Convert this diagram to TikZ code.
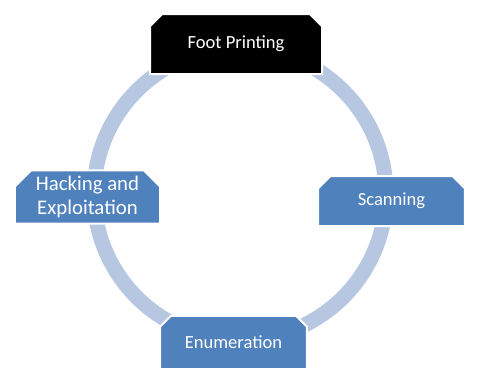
\documentclass[tikz,border=0pt]{standalone}
\usepackage{fontspec}
\setmainfont{Carlito}
\usetikzlibrary{shapes.misc}
\definecolor{stepblue}{HTML}{4F81BD}
\definecolor{ringblue}{HTML}{B7C7E1}
\tikzset{
  px/.style={x=0.75pt,y=-0.75pt},
  ph/.style={chamfered rectangle,chamfered rectangle corners={north west,north east},
    chamfered rectangle xsep=9pt,fill=stepblue,draw=white,line width=1.5pt,
    text=white,align=center,inner sep=0pt,
    font=\fontsize{13.9}{18.75}\selectfont},
  rg/.style={circle,draw=ringblue,line width=11.25pt,minimum size=219pt,inner sep=0pt},
}
\begin{document}
\begin{tikzpicture}[px]
\useasboundingbox (0,0) rectangle (485,380);
\node[rg] (cyc) at (240,194){};
\node[ph,fill=black,minimum width=129pt,minimum height=45pt] (foot) at (236,44){Foot Printing};
\node[ph,minimum width=110pt,minimum height=37.5pt] (scan) at (391.5,201){Scanning};
\node[ph,minimum width=110pt,minimum height=40pt] (enum) at (233.5,342.5){Enumeration};
\node[ph,minimum width=109pt,minimum height=40pt,font=\fontsize{15.6}{18.5}\selectfont] (hack) at (87.5,197){Hacking and\\Exploitation};
\end{tikzpicture}
\end{document}
